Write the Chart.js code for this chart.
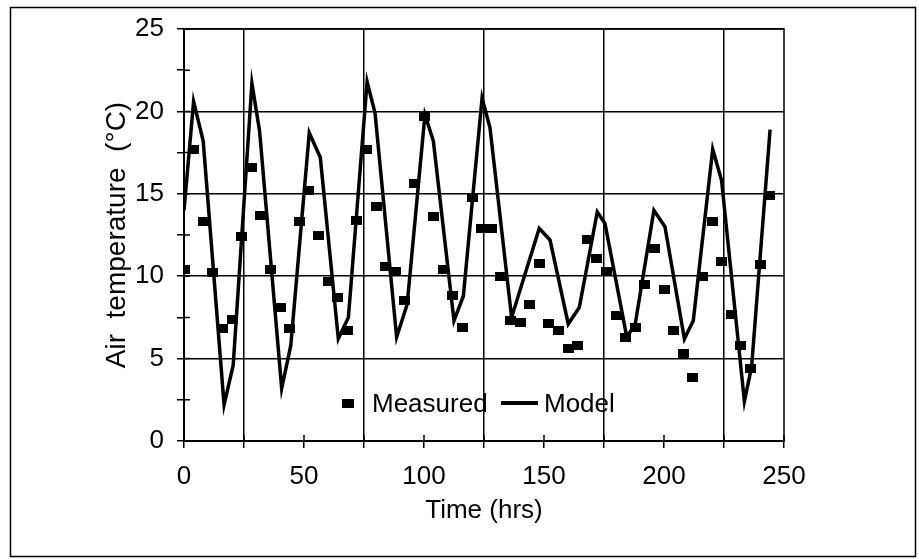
<!DOCTYPE html>
<html>
<head>
<meta charset="utf-8">
<script src="https://cdn.jsdelivr.net/npm/chart.js@4.4.1/dist/chart.umd.min.js"></script>
<style>
  html, body { margin: 0; padding: 0; background: #fff; }
  #wrap { position: relative; width: 919px; height: 559px; }
  .lg { position: absolute; font-family: "Liberation Sans", Arial, sans-serif; font-size: 26px; line-height: 30px; color: #000; white-space: nowrap; }
  .lgbox { position: absolute; background: #000; }
</style>
</head>
<body>
<div id="wrap">
  <canvas id="myChart" width="919" height="559"></canvas>
  <div class="lgbox" style="left:342px;top:399px;width:12px;height:9px"></div>
  <span class="lg" style="left:372px;top:388px">Measured</span>
  <div class="lgbox" style="left:501px;top:401px;width:37px;height:4px"></div>
  <span class="lg" style="left:544px;top:388px">Model</span>
</div>
<script>
// measured air temperature, every 4 hrs
var measuredTime = [0, 4, 8, 12, 16, 20, 24, 28, 32, 36, 40, 44, 48, 52, 56, 60, 64, 68, 72, 76,
    80, 84, 88, 92, 96, 100, 104, 108, 112, 116, 120, 124, 128, 132, 136, 140, 144, 148, 152, 156,
    160, 164, 168, 172, 176, 180, 184, 188, 192, 196, 200, 204, 208, 212, 216, 220, 224, 228, 232, 236,
    240, 244];
var measuredTemp = [10.4, 17.7, 13.3, 10.2, 6.8, 7.4, 12.4, 16.6, 13.7, 10.4, 8.1, 6.8, 13.3, 15.2, 12.5, 9.7, 8.7, 6.7, 13.4, 17.7,
    14.2, 10.6, 10.3, 8.5, 15.6, 19.7, 13.6, 10.4, 8.8, 6.9, 14.8, 12.9, 12.9, 10.0, 7.3, 7.2, 8.3, 10.8, 7.1, 6.7,
    5.6, 5.8, 12.2, 11.1, 10.3, 7.6, 6.3, 6.9, 9.5, 11.7, 9.2, 6.7, 5.3, 3.85, 10.0, 13.3, 10.9, 7.7, 5.8, 4.4,
    10.7, 14.9];

// model line vertices
var modelTime = [0, 4, 8, 16.7, 20.5, 28.3, 31.5, 40.7, 44.5, 52.2, 56.8, 64.3, 68.5, 76.3, 79.6, 88.6, 93,
    100.4, 103.9, 112.5, 116.4, 124.2, 127.5, 136.5, 148, 152.5, 160.1, 164.7, 172.2, 175.4, 184.5, 188,
    195.8, 200.4, 208.5, 212.2, 220.3, 224, 233.5, 236.5, 244.2];
var modelTemp = [14.0, 20.6, 18.2, 2.2, 4.6, 21.7, 18.8, 3.2, 5.8, 18.7, 17.2, 6.2, 7.5, 21.8, 19.9, 6.3, 8.3,
    19.8, 18.2, 7.3, 8.8, 20.8, 19.0, 7.5, 12.9, 12.2, 7.1, 8.1, 13.9, 13.2, 6.3, 7.1,
    14.0, 13.0, 6.2, 7.3, 17.7, 15.8, 2.4, 4.5, 18.9];

var xTickLabels = [0, 50, 100, 150, 200, 250];
var yTickLabels = [0, 5, 10, 15, 20, 25];
var xGridLines = [25, 75, 125, 175, 225];
var yGridLines = [5, 10, 15, 20, 25];

function toPoints(xs, ys) {
    var out = [];
    for (var i = 0; i < xs.length; i++) {
        out.push({x: xs[i], y: ys[i]});
    }
    return out;
}

// little black square for the measured points
var marker = document.createElement('canvas');
marker.width = 11;
marker.height = 9;
var mctx = marker.getContext('2d');
mctx.fillStyle = '#000';
mctx.fillRect(0, 0, 11, 9);

var frames = {
    id: 'frames',
    afterDraw: function (chart) {
        var c = chart.ctx;
        var a = chart.chartArea;
        var xs = chart.scales.x, ys = chart.scales.y;
        c.save();
        c.strokeStyle = '#000';
        c.lineWidth = 1.5;
        c.beginPath();
        xs.ticks.forEach(function (t) {
            var px = xs.getPixelForValue(t.value);
            c.moveTo(px, a.bottom);
            c.lineTo(px, a.bottom - 6);
        });
        ys.ticks.forEach(function (t) {
            var py = ys.getPixelForValue(t.value);
            c.moveTo(a.left, py);
            c.lineTo(a.left + 6, py);
        });
        c.stroke();
        c.strokeRect(a.left, a.top, a.right - a.left, a.bottom - a.top);
        c.strokeRect(10.5, 7.5, 905, 549);
        c.restore();
    }
};

Chart.defaults.font.family = '"Liberation Sans", Arial, sans-serif';
Chart.defaults.font.size = 26;
Chart.defaults.color = '#000';

var ctx = document.getElementById('myChart').getContext('2d');
var chart = new Chart(ctx, {
    type: 'scatter',
    data: {
        datasets: [{
            label: 'Measured',
            data: toPoints(measuredTime, measuredTemp),
            pointStyle: marker,
            pointRadius: 5,
            showLine: false
        }, {
            label: 'Model',
            data: toPoints(modelTime, modelTemp),
            showLine: true,
            borderColor: '#000',
            borderWidth: 3.5,
            pointRadius: 0,
            tension: 0
        }]
    },
    options: {
        responsive: false,
        animation: false,
        layout: {padding: {left: 0, top: 29, right: 135, bottom: 0}},
        plugins: {legend: {display: false}, tooltip: {enabled: false}},
        scales: {
            x: {
                type: 'linear',
                min: 0,
                max: 250,
                afterFit: function (s) { s.height = 118; },
                ticks: {
                    stepSize: 25,
                    autoSkip: false,
                    maxRotation: 0,
                    padding: 13,
                    callback: function (v) { return xTickLabels.indexOf(v) >= 0 ? v : ''; }
                },
                grid: {
                    color: function (c) { return c.tick && xGridLines.indexOf(c.tick.value) >= 0 ? '#000' : 'rgba(0,0,0,0)'; },
                    tickColor: '#000',
                    lineWidth: 1.5,
                    tickLength: 7
                },
                border: {color: '#000', width: 2},
                title: {display: true, text: 'Time (hrs)', padding: {top: 0, bottom: 33}}
            },
            y: {
                min: 0,
                max: 25,
                afterFit: function (s) { s.width = 184; },
                ticks: {
                    stepSize: 2.5,
                    autoSkip: false,
                    padding: 13,
                    callback: function (v) { return yTickLabels.indexOf(v) >= 0 ? v : ''; }
                },
                grid: {
                    color: function (c) { return c.tick && yGridLines.indexOf(c.tick.value) >= 0 ? '#000' : 'rgba(0,0,0,0)'; },
                    tickColor: '#000',
                    lineWidth: 1.5,
                    tickLength: 7
                },
                border: {color: '#000', width: 2},
                title: {display: true, text: 'Air  temperature  (°C)', font: {size: 28}, padding: {top: 100, bottom: 0}}
            }
        }
    },
    plugins: [frames]
});
</script>
</body>
</html>
